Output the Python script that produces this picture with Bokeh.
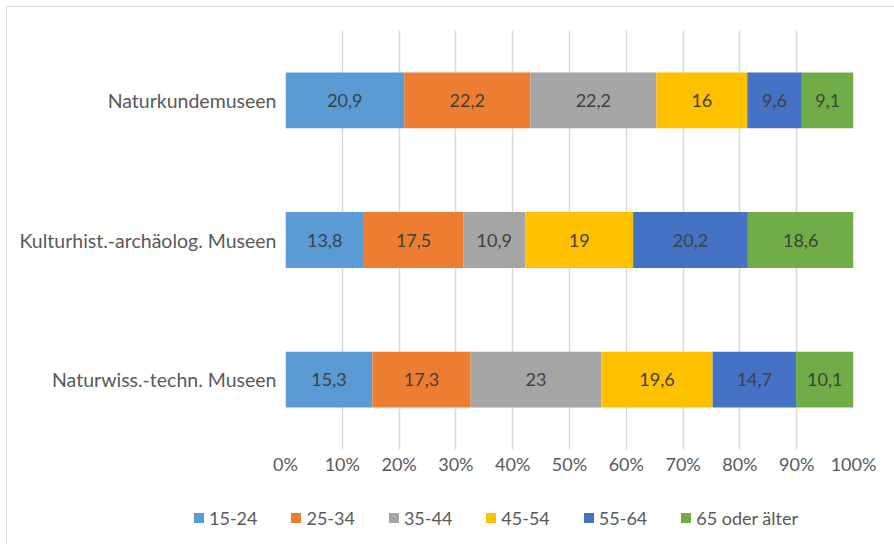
from bokeh.plotting import figure
from bokeh.layouts import column
from bokeh.models import (ColumnDataSource, FactorRange, Range1d, FixedTicker,
                          PrintfTickFormatter, Div)
from bokeh.core.properties import value
from bokeh.embed import file_html
from bokeh.resources import INLINE

# Museum types, listed bottom to top
museums = ["Naturwiss.-techn. Museen", "Kulturhist.-archäolog. Museen", "Naturkundemuseen"]

# Age groups (stack order left to right)
age_groups = ["15-24", "25-34", "35-44", "45-54", "55-64", "65 oder älter"]

# Share of visitors per age group (%), one list per museum type in the order above
share_15_24 = [15.3, 13.8, 20.9]
share_25_34 = [17.3, 17.5, 22.2]
share_35_44 = [23.0, 10.9, 22.2]
share_45_54 = [19.6, 19.0, 16.0]
share_55_64 = [14.7, 20.2, 9.6]
share_65_plus = [10.1, 18.6, 9.1]

colors = ["#5B9BD5", "#ED7D31", "#A5A5A5", "#FFC000", "#4472C4", "#70AD47"]
x_ticks = [0, 10, 20, 30, 40, 50, 60, 70, 80, 90, 100]

FONT = "Lato"
TEXT_GREY = "#595959"
LABEL_GREY = "#404040"

series = [share_15_24, share_25_34, share_35_44, share_45_54, share_55_64, share_65_plus]


def de_num(v):
    s = f"{v:.1f}"
    if s.endswith(".0"):
        s = s[:-2]
    return s.replace(".", ",")


# ---- main chart -------------------------------------------------------------
p = figure(
    y_range=FactorRange(*museums, range_padding=0),
    x_range=Range1d(0, 100),
    width=888, height=482,
    output_backend="svg", toolbar_location=None,
)
p.min_border_left = 278
p.min_border_top = 23
p.min_border_right = 42
p.min_border_bottom = 40
p.outline_line_color = None
p.background_fill_color = "white"
p.border_fill_color = "white"

# Stacked bars, with value labels in each segment
left = [0.0] * len(museums)
for name, vals, col in zip(age_groups, series, colors):
    right = [l + v for l, v in zip(left, vals)]
    src = ColumnDataSource(dict(
        museum=museums, left=left, right=right,
        mid=[(l + r) / 2 for l, r in zip(left, right)],
        label=[de_num(v) for v in vals],
    ))
    p.hbar(y="museum", left="left", right="right", height=0.4,
           fill_color=col, line_color=None, source=src)
    p.text(x="mid", y="museum", text="label", source=src,
           text_align="center", text_baseline="middle",
           text_font=value(FONT), text_font_size="18px", text_color=LABEL_GREY)
    left = right

# Axes
p.xaxis.ticker = FixedTicker(ticks=x_ticks)
p.xaxis.formatter = PrintfTickFormatter(format="%d%%")
for ax in (p.xaxis, p.yaxis):
    ax.axis_line_color = None
    ax.major_tick_line_color = None
    ax.minor_tick_line_color = None
    ax.major_label_text_font = FONT
    ax.major_label_text_color = TEXT_GREY
p.xaxis.major_label_text_font_size = "18px"
p.yaxis.major_label_text_font_size = "19.5px"
p.xaxis.major_label_standoff = -3
p.yaxis.major_label_standoff = 3

p.xgrid.ticker = FixedTicker(ticks=x_ticks)
p.xgrid.grid_line_color = "#D9D9D9"
p.xgrid.grid_line_width = 1.5
p.ygrid.grid_line_color = None

# ---- legend row (colour key for the age groups) -----------------------------
entries = []
for name, col in zip(age_groups, colors):
    entries.append(
        '<span style="display:inline-flex;align-items:center;min-width:63px;'
        'margin-right:34px;white-space:nowrap;">'
        f'<span style="display:inline-block;width:10px;height:10px;background:{col};'
        'margin-right:5px;"></span>'
        f'<span>{name}</span></span>'
    )
legend_div = Div(
    text="".join(entries),
    width=888, height=55,
    styles={"font-family": FONT, "font-size": "18px", "color": TEXT_GREY,
            "line-height": "20px", "padding-top": "12px", "padding-left": "182px",
            "box-sizing": "border-box", "white-space": "nowrap"},
)

layout = column(p, legend_div, spacing=0, margin=(6, 0, 0, 6),
                styles={"border-top": "1px solid #D9D9D9",
                        "border-left": "1px solid #D9D9D9"})

open("out.html", "w").write(file_html(layout, INLINE))
